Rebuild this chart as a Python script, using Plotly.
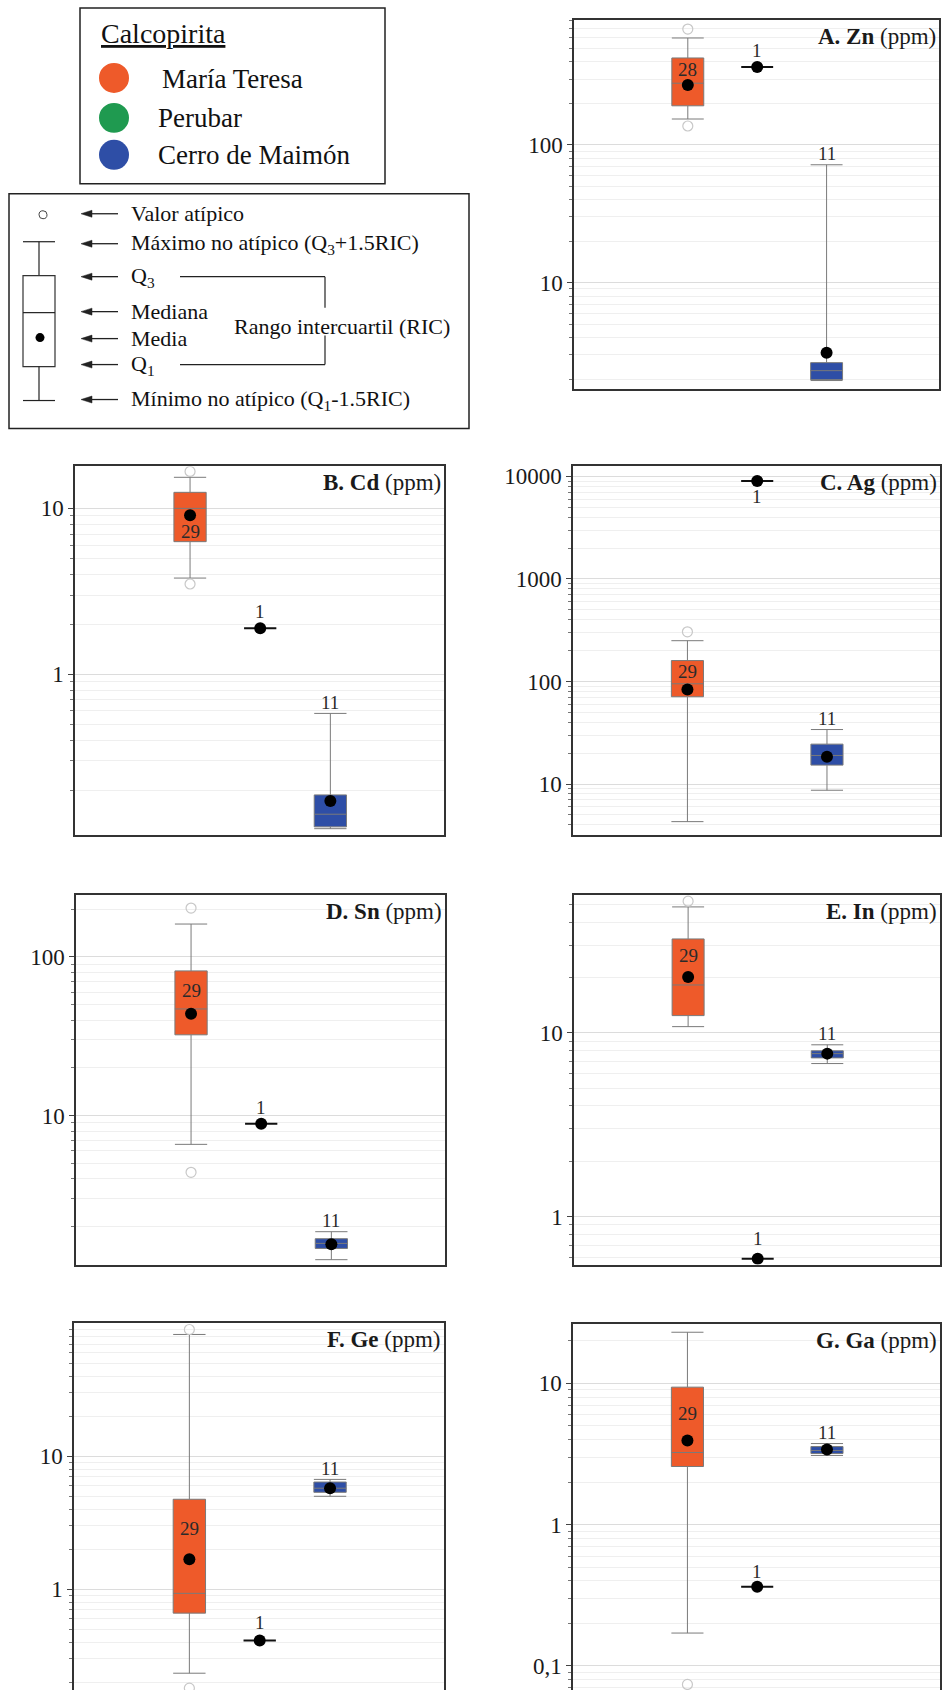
import numpy as np
import plotly.graph_objects as go

W, H = 944, 1690
FONT = "Liberation Serif, Times New Roman, serif"

# ---------------- data ----------------
groups = ["María Teresa", "Perubar", "Cerro de Maimón"]
panel_letters = ["A", "B", "C", "D", "E", "F", "G"]
elements = ["Zn", "Cd", "Ag", "Sn", "In", "Ge", "Ga"]

# María Teresa
mt_n = [28, 29, 29, 29, 29, 29, 29]
mt_low = [154, 3.8, 4.3, 6.6, 10.8, 0.233, 0.171]
mt_q1 = [192, 6.3, 71, 32.3, 12.4, 0.66, 2.58]
mt_med = [280, 10, 95, 47, 18.2, 0.93, 3.24]
mt_q3 = [427, 12.5, 160, 81.6, 32.4, 4.75, 9.4]
mt_high = [596, 15.4, 250, 161, 48.4, 82.6, 23]
mt_mean = [272, 9.1, 83.6, 43.9, 20.1, 1.68, 3.94]
mt_outliers = [[692, 137], [16.7, 3.5], [305], [203, 4.4], [52], [90, 0.18], [0.074]]

# Perubar (single analysis)
pb_n = [1, 1, 1, 1, 1, 1, 1]
pb_value = [367, 1.89, 9000, 8.9, 0.59, 0.41, 0.363]

# Cerro de Maimón
cm_n = [11, 11, 11, 11, 11, 11, 11]
cm_low = [1.95, 0.117, 8.7, 1.24, 6.8, 5.0, 3.09]
cm_q1 = [1.98, 0.12, 15.3, 1.46, 7.3, 5.36, 3.19]
cm_med = [2.3, 0.143, 19, 1.57, 7.7, 5.75, 3.35]
cm_q3 = [2.63, 0.187, 24.5, 1.68, 7.98, 6.4, 3.57]
cm_high = [71.7, 0.58, 34, 1.86, 8.6, 6.7, 3.75]
cm_mean = [3.1, 0.172, 18.5, 1.55, 7.7, 5.75, 3.4]

y_tickvals = [[10, 100], [1, 10], [10, 100, 1000, 10000], [10, 100], [1, 10], [1, 10], [0.1, 1, 10]]
y_ticktext = [["10", "100"], ["1", "10"], ["10", "100", "1000", "10000"], ["10", "100"],
              ["1", "10"], ["1", "10"], ["0,1", "1", "10"]]

# ---------------- layout / style ----------------
panel_px = [(574, 939, 18, 387), (75, 444, 465, 834), (573, 940, 465, 834),
            (76, 445, 894, 1264), (574, 940, 894, 1264), (74, 444, 1323, 1690),
            (573, 940, 1324, 1690)]
y_ranges = [[0.232, 2.906], [-0.970, 1.253], [0.503, 4.097], [0.063, 2.39],
            [-0.261, 1.75], [-0.759, 2.0], [-1.170, 1.417]]
open_bottom = [False, False, False, False, False, True, True]
mt_label_ref = ["q3", "mean", "q3", "q3", "q3", "q3", "q3"]
mt_label_dy = [12, 16, 11, 20, 17, 29, 26]
pb_label_dy = [-17, -17, 15, -16, -20, -18, -15]

C_OR = "#EE5A2A"
C_GR = "#1F9A50"
C_BL = "#2E4EA6"

minor_vals = [d * 10.0 ** k for k in range(-3, 6) for d in range(2, 10)]


def px(x):
    return x / W


def py(y):
    return 1 - y / H


fig = go.Figure()
annotations = []
shapes = []
layout_axes = {}

for i in range(7):
    sfx = "" if i == 0 else str(i + 1)
    xa, ya = "x" + sfx, "y" + sfx
    x0, x1, y0, y1 = panel_px[i]

    # María Teresa box
    fig.add_trace(go.Box(
        x=[groups[0]], q1=[mt_q1[i]], median=[mt_med[i]], q3=[mt_q3[i]],
        lowerfence=[mt_low[i]], upperfence=[mt_high[i]],
        width=0.46, whiskerwidth=1, fillcolor=C_OR,
        line=dict(color="#7a7a7a", width=1), xaxis=xa, yaxis=ya,
        showlegend=False, hoverinfo="skip"))
    # Perubar single value
    fig.add_trace(go.Box(
        x=[groups[1]], q1=[pb_value[i]], median=[pb_value[i]], q3=[pb_value[i]],
        lowerfence=[pb_value[i]], upperfence=[pb_value[i]],
        width=0.46, whiskerwidth=1, fillcolor="#111",
        line=dict(color="#111", width=2), xaxis=xa, yaxis=ya,
        showlegend=False, hoverinfo="skip"))
    # Cerro de Maimón box
    fig.add_trace(go.Box(
        x=[groups[2]], q1=[cm_q1[i]], median=[cm_med[i]], q3=[cm_q3[i]],
        lowerfence=[cm_low[i]], upperfence=[cm_high[i]],
        width=0.46, whiskerwidth=1, fillcolor=C_BL,
        line=dict(color="#7a7a7a", width=1), xaxis=xa, yaxis=ya,
        showlegend=False, hoverinfo="skip"))
    # outliers
    fig.add_trace(go.Scatter(
        x=[groups[0]] * len(mt_outliers[i]), y=mt_outliers[i], mode="markers",
        marker=dict(symbol="circle-open", size=10, color="#c8c8c8", line=dict(width=1.2)),
        xaxis=xa, yaxis=ya, showlegend=False, hoverinfo="skip"))
    # means
    fig.add_trace(go.Scatter(
        x=groups, y=[mt_mean[i], pb_value[i], cm_mean[i]], mode="markers",
        marker=dict(size=12, color="#000"), xaxis=xa, yaxis=ya,
        showlegend=False, hoverinfo="skip"))

    xkey = "xaxis" + sfx
    ykey = "yaxis" + sfx
    layout_axes[xkey] = dict(
        domain=[px(x0), px(x1)], anchor=ya, type="category",
        categoryorder="array", categoryarray=groups, range=[-1.64, 3.62],
        showticklabels=False, ticks="", showgrid=False, zeroline=False,
        showline=True, linecolor="#333", linewidth=1.5,
        mirror=not open_bottom[i], side="top" if open_bottom[i] else "bottom")
    layout_axes[ykey] = dict(
        domain=[max(0, py(y1)), py(y0)], anchor=xa, type="log", range=y_ranges[i],
        tickmode="array", tickvals=y_tickvals[i], ticktext=y_ticktext[i],
        ticks="outside", ticklen=5, tickcolor="#444", tickwidth=1,
        tickfont=dict(family=FONT, size=23, color="#1a1a1a"),
        showgrid=True, gridcolor="#dcdcdc", gridwidth=1, zeroline=False,
        showline=True, linecolor="#333", linewidth=1.5, mirror=True,
        minor=dict(tickmode="array", tickvals=minor_vals, ticks="outside",
                   ticklen=3, tickcolor="#777", showgrid=True,
                   gridcolor="#efefef", gridwidth=1))

    # panel title
    annotations.append(dict(
        xref=xa + " domain", yref=ya + " domain", x=1, y=1, xanchor="right",
        yanchor="top", yshift=-2, xshift=-1, showarrow=False,
        text=f"<b>{panel_letters[i]}. {elements[i]}</b> (ppm)",
        font=dict(family=FONT, size=23, color="#1a1a1a")))

    lab_font = dict(family=FONT, size=19, color="#2a2a2a")
    ref_val = mt_q3[i] if mt_label_ref[i] == "q3" else mt_mean[i]
    annotations.append(dict(
        xref=xa, yref=ya, x=groups[0], y=np.log10(ref_val), yanchor="middle",
        yshift=-mt_label_dy[i], showarrow=False, text=str(mt_n[i]), font=lab_font))
    annotations.append(dict(
        xref=xa, yref=ya, x=groups[1], y=np.log10(pb_value[i]), yanchor="middle",
        yshift=-pb_label_dy[i], showarrow=False, text=str(pb_n[i]), font=lab_font))
    annotations.append(dict(
        xref=xa, yref=ya, x=groups[2], y=np.log10(cm_high[i]), yanchor="middle",
        yshift=11, showarrow=False, text=str(cm_n[i]), font=lab_font))

# ---------------- legend boxes ----------------
def rect(x0, y0, x1, y1, line="#222", width=1.5, fill="rgba(0,0,0,0)"):
    shapes.append(dict(type="rect", xref="paper", yref="paper",
                       x0=px(x0), x1=px(x1), y0=py(y1), y1=py(y0),
                       line=dict(color=line, width=width), fillcolor=fill))


def line(x0, y0, x1, y1, color="#222", width=1.2):
    shapes.append(dict(type="line", xref="paper", yref="paper",
                       x0=px(x0), x1=px(x1), y0=py(y0), y1=py(y1),
                       line=dict(color=color, width=width)))


def circle(cx, cy, r, fill, line_color=None, width=0):
    shapes.append(dict(type="circle", xref="paper", yref="paper",
                       x0=px(cx - r), x1=px(cx + r), y0=py(cy + r), y1=py(cy - r),
                       fillcolor=fill,
                       line=dict(color=line_color or fill, width=width)))


def arrow_left(x_head, x_tail, y):
    line(x_head + 6, y, x_tail, y, width=1.3)
    path = (f"M{px(x_head)},{py(y)} L{px(x_head + 11)},{py(y - 3.5)} "
            f"L{px(x_head + 11)},{py(y + 3.5)} Z")
    shapes.append(dict(type="path", xref="paper", yref="paper", path=path,
                       fillcolor="#222", line=dict(color="#222", width=0.5)))


def text(x, y, s, size, anchor="left"):
    annotations.append(dict(xref="paper", yref="paper", x=px(x), y=py(y),
                            xanchor=anchor, yanchor="middle", showarrow=False,
                            text=s, font=dict(family=FONT, size=size, color="#111")))


rect(80, 6, 385, 182)
text(99, 32, "<u>Calcopirita</u>", 28)
circle(114, 76, 15, C_OR)
circle(114, 116, 15, C_GR)
circle(114, 153, 15, C_BL)
text(160, 77, "María Teresa", 27)
text(156, 116, "Perubar", 27)
text(156, 153, "Cerro de Maimón", 27)

rect(9, 192, 469, 427)
circle(43, 213, 4, "white", "#444", 1)
line(23, 240, 55, 240)
line(39, 240, 39, 274)
rect(23, 274, 55, 365, line="#333", width=1.2)
line(23, 311, 55, 311)
circle(40, 336, 4.5, "#000")
line(39, 365, 39, 399)
line(23, 399, 55, 399)

rows = [(212, "Valor atípico"),
        (242, "Máximo no atípico (Q<sub>3</sub>+1.5RIC)"),
        (275, "Q<sub>3</sub>"),
        (310, "Mediana"),
        (337, "Media"),
        (363, "Q<sub>1</sub>"),
        (398, "Mínimo no atípico (Q<sub>1</sub>-1.5RIC)")]
for yy, s in rows:
    text(129, yy, s, 22)
    arrow_left(81, 118, yy)
text(232, 325, "Rango intercuartil (RIC)", 22)
line(180, 275, 325, 275)
line(325, 275, 325, 306)
line(325, 334, 325, 363)
line(180, 363, 325, 363)

fig.update_layout(
    width=W, height=H, margin=dict(l=0, r=0, t=0, b=0),
    paper_bgcolor="white", plot_bgcolor="white",
    boxmode="overlay", showlegend=False,
    annotations=annotations, shapes=shapes, **layout_axes)

fig.write_html("out.html", config={"displayModeBar": False},
               post_script="document.body.style.margin='0';")
